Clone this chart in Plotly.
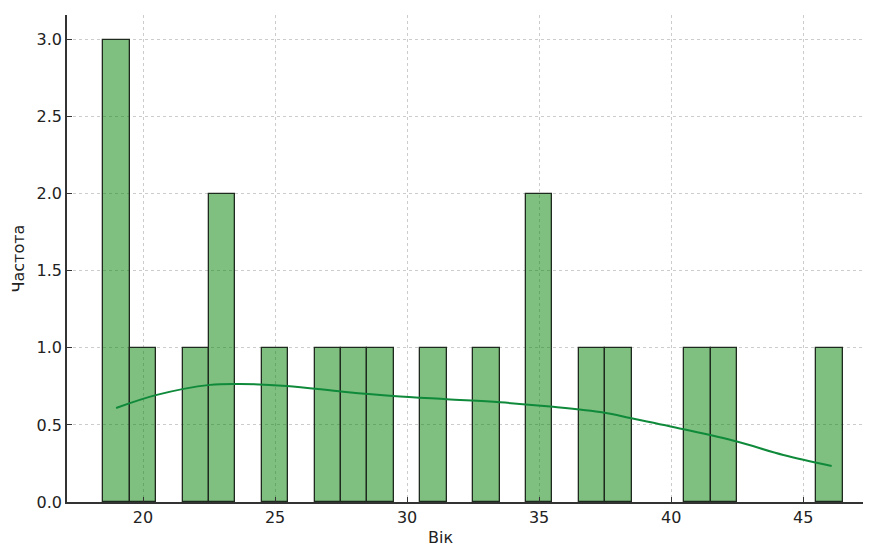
import plotly.graph_objects as go

# Histogram bins (width 1) and counts
bin_centers = [19, 20, 22, 23, 25, 27, 28, 29, 31, 33, 35, 37, 38, 41, 42, 46]
counts = [3, 1, 1, 2, 1, 1, 1, 1, 1, 1, 2, 1, 1, 1, 1, 1]
bin_width = 1

# KDE curve
kde_x = [18.98, 20.52, 22.54, 23.67, 25.44, 27.58, 29.47, 31.5, 33.52, 35.42,
         37.44, 38.5, 40.47, 42.49, 44.25, 46.08]
kde_y = [0.61, 0.695, 0.76, 0.766, 0.753, 0.716, 0.688, 0.667, 0.647, 0.619,
         0.58, 0.543, 0.472, 0.392, 0.305, 0.234]

x_ticks = [20, 25, 30, 35, 40, 45]
y_ticks = [0.0, 0.5, 1.0, 1.5, 2.0, 2.5, 3.0]

font = "DejaVu Sans"

fig = go.Figure()
fig.add_trace(go.Bar(
    x=bin_centers, y=counts, width=bin_width,
    marker=dict(color="rgba(0,128,0,0.5)", line=dict(color="#1f2a1f", width=1.3)),
    showlegend=False,
))
fig.add_trace(go.Scatter(
    x=kde_x, y=kde_y, mode="lines", line=dict(color="#0f8a3a", width=2, shape="spline"),
    showlegend=False,
))

grid = dict(showgrid=True, gridcolor="#cccccc", gridwidth=0.8, griddash="dot")

fig.update_layout(
    width=863, height=537,
    margin=dict(l=59, r=0, t=7, b=43),
    plot_bgcolor="white", paper_bgcolor="white",
    bargap=0,
    font=dict(family=font, size=16, color="#222222"),
    xaxis=dict(range=[17.12, 47.57], tickvals=x_ticks, ticks="inside", ticklen=5,
               tickcolor="#333333", showline=True, linecolor="#333333", linewidth=1.5,
               zeroline=False, tickfont=dict(size=16), **grid),
    yaxis=dict(range=[0, 3.16], tickvals=y_ticks, tickformat=".1f", ticks="inside",
               ticklen=5, tickcolor="#333333", showline=True, linecolor="#333333",
               linewidth=1.5, zeroline=False, tickfont=dict(size=16), **grid),
    annotations=[
        dict(text="Вік", xref="paper", yref="paper", x=0.464, y=0, yshift=-35,
             showarrow=False, xanchor="center", yanchor="middle", font=dict(size=16)),
        dict(text="Частота", xref="paper", yref="paper", x=0, y=0.5, xshift=-49,
             showarrow=False, textangle=-90, xanchor="center", yanchor="middle",
             font=dict(size=16)),
    ],
)

fig.write_html("out.html")
